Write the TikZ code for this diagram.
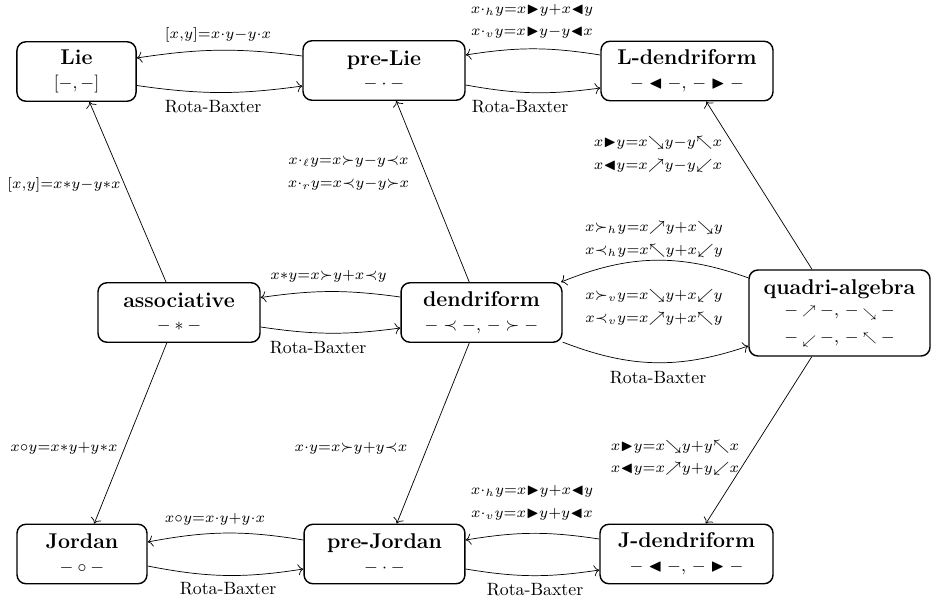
\documentclass[tikz,border=0pt]{standalone}
\usepackage{amsmath,amssymb,graphicx}
\usetikzlibrary{calc,arrows.meta}
\newcommand{\nne}{\mathbin{\raisebox{0.8pt}{$\scriptstyle\nearrow$}}}
\newcommand{\nse}{\mathbin{\raisebox{-0.8pt}{$\scriptstyle\searrow$}}}
\newcommand{\nnw}{\mathbin{\raisebox{0.8pt}{$\scriptstyle\nwarrow$}}}
\newcommand{\nsw}{\mathbin{\raisebox{-0.8pt}{$\scriptstyle\swarrow$}}}
\newcommand{\brt}{\blacktriangleright}
\newcommand{\blt}{\blacktriangleleft}
\newcommand{\lb}[1]{\scalebox{1.18}{$\scriptstyle #1$}}
\begin{document}
\begin{tikzpicture}[x=0.5618pt,y=0.5618pt,>={To[scale=1.2]},
  blk/.style={draw,thick,rounded corners=5pt,align=center,minimum height=33.4pt,inner sep=2pt},
  lbl/.style={inner sep=0pt}]
\useasboundingbox (0,0) rectangle (931,-603);

% nodes
\node[blk,minimum width=66.9pt] (Lie) at (76.5,-71.5) {{\large\bfseries Lie}\\[1.3pt] $[-,-]$};
\node[blk,minimum width=91pt] (preLie) at (384,-70.5) {{\large\bfseries pre-Lie}\\[1.3pt] $-\cdot-$};
\node[blk,minimum width=96.6pt] (Ldend) at (687,-71) {{\large\bfseries L-dendriform}\\[1.3pt] $-\blt-$, $-\brt-$};
\node[blk,minimum width=91pt] (assoc) at (179,-312.5) {{\large\bfseries associative}\\[1.3pt] $-*-$};
\node[blk,minimum width=90.4pt] (dend) at (481.5,-312.5) {{\large\bfseries dendriform}\\[1.3pt] $-\prec-$, $-\succ-$};
\node[blk,minimum width=101.7pt,minimum height=48.3pt] (quadri) at (839.5,-313) {{\large\bfseries quadri-algebra}\\[0.2pt] $-\nne-$, $-\nse-$\\[3.2pt] $-\nsw-$, $-\nnw-$};
\node[blk,minimum width=73pt] (Jordan) at (82,-554) {{\large\bfseries Jordan}\\[1.3pt] $-\circ-$};
\node[blk,minimum width=90.4pt] (preJordan) at (384.5,-554) {{\large\bfseries pre-Jordan}\\[1.3pt] $-\cdot-$};
\node[blk,minimum width=97.2pt] (Jdend) at (686.5,-554) {{\large\bfseries J-dendriform}\\[1.3pt] $-\blt-$, $-\brt-$};

% horizontal curved arrows
\draw[<-] ($(Lie.east)+(0,13.5)$) to[bend left=8] ($(preLie.west)+(0,14.5)$);
\draw[->] ($(Lie.east)+(0,-14)$) to[bend right=8] ($(preLie.west)+(0,-15.5)$);
\draw[<-] ($(preLie.east)+(0,15.5)$) to[bend left=9] ($(Ldend.west)+(0,16)$);
\draw[->] ($(preLie.east)+(0,-14.5)$) to[bend right=9] ($(Ldend.west)+(0,-17)$);
\draw[<-] ($(assoc.east)+(0,15)$) to[bend left=8] ($(dend.west)+(0,15.5)$);
\draw[->] ($(assoc.east)+(0,-14.5)$) to[bend right=8] ($(dend.west)+(0,-15.5)$);
\draw[<-] (dend) to[bend left=21] (quadri);
\draw[->] (dend) to[bend right=20] (quadri);
\draw[<-] ($(Jordan.east)+(0,12)$) to[bend left=10] ($(preJordan.west)+(0,14)$);
\draw[->] ($(Jordan.east)+(0,-12)$) to[bend right=10] ($(preJordan.west)+(0,-15)$);
\draw[<-] ($(preJordan.east)+(0,14)$) to[bend left=9] ($(Jdend.west)+(0,15)$);
\draw[->] ($(preJordan.east)+(0,-15)$) to[bend right=9] ($(Jdend.west)+(0,-16)$);

% straight arrows
\draw[->] (assoc) -- (Lie);
\draw[->] (dend) -- (preLie);
\draw[->] (quadri) -- (Ldend);
\draw[->] (assoc) -- (Jordan);
\draw[->] (dend) -- (preJordan);
\draw[->] (quadri) -- (Jdend);

% labels
\node[lbl] (l1) at (218,-35) {\lb{[x,y]=x\cdot y-y\cdot x}};
\node[lbl] (rb1) at (213,-107) {Rota-Baxter};
\node[lbl] (l2a) at (532,-10) {\lb{x\cdot_h y=x\brt y+x\blt y}};
\node[lbl] (l2b) at (532,-32) {\lb{x\cdot_v y=x\brt y-y\blt x}};
\node[lbl] (rb2) at (520,-107) {Rota-Baxter};
\node[lbl] (l3a) at (658,-143) {\lb{x\brt y=x\searrow y-y\nwarrow x}};
\node[lbl] (l3b) at (658,-166) {\lb{x\blt y=x\nearrow y-y\swarrow x}};
\node[lbl] (l4a) at (348.5,-161) {\lb{x\cdot_\ell y=x\succ y-y\prec x}};
\node[lbl] (l4b) at (348.5,-184) {\lb{x\cdot_r y=x\prec y-y\succ x}};
\node[lbl] (l5) at (64,-185) {\lb{[x,y]=x*y-y*x}};
\node[lbl] (l6a) at (654,-228) {\lb{x\succ_h y=x\nearrow y+x\searrow y}};
\node[lbl] (l6b) at (654,-251) {\lb{x\prec_h y=x\nwarrow y+x\swarrow y}};
\node[lbl] (l6c) at (654,-296) {\lb{x\succ_v y=x\searrow y+x\swarrow y}};
\node[lbl] (l6d) at (654,-319) {\lb{x\prec_v y=x\nearrow y+x\nwarrow y}};
\node[lbl] (l7) at (328.5,-276) {\lb{x*y=x\succ y+x\prec y}};
\node[lbl] (rb3) at (318,-348) {Rota-Baxter};
\node[lbl] (rb4) at (658,-378) {Rota-Baxter};
\node[lbl] (l8) at (64,-448) {\lb{x\circ y=x*y+y*x}};
\node[lbl] (l9) at (351,-448) {\lb{x\cdot y=x\succ y+y\prec x}};
\node[lbl] (l10a) at (675,-447) {\lb{x\brt y=x\searrow y+y\nwarrow x}};
\node[lbl] (l10b) at (675,-469) {\lb{x\blt y=x\nearrow y+y\swarrow x}};
\node[lbl] (l11a) at (532,-491) {\lb{x\cdot_h y=x\brt y+x\blt y}};
\node[lbl] (l11b) at (532,-514) {\lb{x\cdot_v y=x\brt y+y\blt x}};
\node[lbl] (l12) at (215,-519) {\lb{x\circ y=x\cdot y+y\cdot x}};
\node[lbl] (rb5) at (228,-589) {Rota-Baxter};
\node[lbl] (rb6) at (535,-590) {Rota-Baxter};
\end{tikzpicture}
\end{document}
